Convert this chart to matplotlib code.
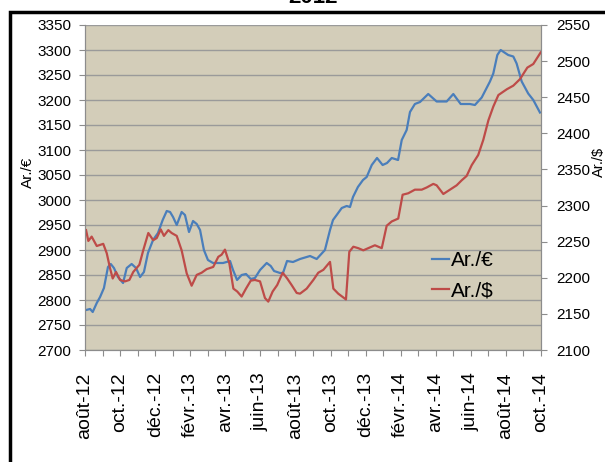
import matplotlib
matplotlib.use("Agg")
import matplotlib.pyplot as plt
from matplotlib.patches import Rectangle

plt.rcParams['font.family'] = ['Liberation Sans', 'DejaVu Sans']

# mois depuis août 2012
mois_eur = [0.06, 0.29, 0.44, 0.67, 0.86, 1.08, 1.31, 1.47, 1.65, 1.88, 2.17, 2.38, 2.66, 2.91,
            3.14, 3.36, 3.59, 3.88, 4.16, 4.43, 4.66, 4.85, 5.02, 5.23, 5.51, 5.70, 5.93, 6.16,
            6.37, 6.56, 6.78, 7.01, 7.30, 7.58, 7.87, 8.27, 8.44, 8.67, 8.93, 9.18, 9.45, 9.69,
            9.98, 10.36, 10.59, 10.78, 11.12, 11.29, 11.52, 11.86, 12.26, 12.83, 13.21, 13.68,
            13.97, 14.14, 14.35, 14.64, 14.92, 15.11, 15.28, 15.56, 15.85, 16.06, 16.35, 16.65,
            16.97, 17.22, 17.49, 17.85, 18.06, 18.34, 18.53, 18.81, 19.10, 19.57, 20.05, 20.62,
            21.00, 21.42, 21.95, 22.23, 22.62, 23.09, 23.28, 23.51, 23.70, 24.13, 24.42, 24.61,
            24.90, 25.27, 25.56, 25.94]
ar_eur = [2780, 2782, 2776, 2794, 2806, 2824, 2866, 2872, 2864, 2846, 2834, 2864, 2872, 2864,
          2846, 2856, 2894, 2920, 2934, 2960, 2978, 2976, 2966, 2950, 2976, 2970, 2936, 2958,
          2952, 2940, 2900, 2880, 2874, 2874, 2874, 2878, 2860, 2840, 2850, 2852, 2842, 2844,
          2860, 2874, 2868, 2858, 2854, 2854, 2878, 2876, 2882, 2888, 2882, 2900,
          2940, 2960, 2970, 2984, 2988, 2986, 3006, 3026, 3040, 3046, 3070, 3084,
          3070, 3074, 3084, 3080, 3120, 3140, 3176, 3192, 3196, 3212, 3197, 3197,
          3212, 3192, 3192, 3190, 3205, 3237, 3253, 3290, 3300, 3290, 3287, 3273,
          3237, 3213, 3200, 3175]

mois_usd = [0.06, 0.19, 0.38, 0.67, 1.04, 1.24, 1.43, 1.58, 1.77, 2.00, 2.28, 2.53, 2.75, 3.10,
            3.32, 3.61, 3.89, 4.09, 4.32, 4.50, 4.75, 4.94, 5.23, 5.51, 5.80, 6.08, 6.37, 6.65,
            6.94, 7.31, 7.60, 7.79, 7.98, 8.23, 8.46, 8.68, 8.93, 9.18, 9.45, 9.69, 9.98, 10.26,
            10.45, 10.70, 10.96, 11.27, 11.53, 11.78, 12.07, 12.26, 12.64, 13.02, 13.30, 13.59,
            13.97, 14.16, 14.44, 14.88, 15.07, 15.30, 15.58, 15.87, 16.15, 16.53, 16.92, 17.20,
            17.49, 17.86, 18.11, 18.43, 18.81, 19.20, 19.48, 19.86, 20.05, 20.43, 20.81, 21.19,
            21.48, 21.76, 22.05, 22.42, 22.71, 23.00, 23.28, 23.57, 24.05, 24.42, 24.80, 25.22,
            25.56, 25.98]
ar_usd = [2266, 2251, 2257, 2244, 2247, 2234, 2213, 2199, 2208, 2197, 2195, 2197, 2208, 2218,
          2238, 2262, 2252, 2255, 2267, 2258, 2266, 2262, 2258, 2238, 2206, 2189, 2204, 2207,
          2212, 2215, 2229, 2232, 2239, 2220, 2185, 2181, 2174, 2185, 2196, 2197, 2195, 2172,
          2167, 2181, 2190, 2207, 2199, 2190, 2179, 2178, 2185, 2197, 2207, 2211,
          2222, 2185, 2178, 2170, 2236, 2243, 2241, 2238, 2241, 2245, 2241, 2272,
          2278, 2282, 2315, 2317, 2322, 2322, 2325, 2330, 2328, 2316, 2322, 2328,
          2335, 2341, 2356, 2370, 2391, 2418, 2437, 2453, 2461, 2466, 2475, 2491,
          2496, 2512]

etiquettes = ['août-12', 'oct.-12', 'déc.-12', 'févr.-13', 'avr.-13', 'juin-13', 'août-13',
              'oct.-13', 'déc.-13', 'févr.-14', 'avr.-14', 'juin-14', 'août-14', 'oct.-14']

gris = '#8c8c8c'

fig = plt.figure(figsize=(6.05, 4.62), dpi=100)
ax = fig.add_axes([85/605, 1-350/462, 456/605, 325/462])
ax.set_facecolor('#d3cdb9')

l1, = ax.plot(mois_eur, ar_eur, color='#4a7ebb', lw=1.6, label='Ar./€')
ax.set_ylim(2700, 3350)
ax.set_yticks(range(2700, 3351, 50))
ax.set_xlim(0, 26)
ax.set_xticks(range(27))
ax.set_xticklabels([etiquettes[i // 2] if i % 2 == 0 else '' for i in range(27)],
                   rotation=90, fontsize=14)
ax.grid(axis='y', color='#9a9a9a', lw=1)
ax.set_axisbelow(True)

ax2 = ax.twinx()
l2, = ax2.plot(mois_usd, ar_usd, color='#be4b48', lw=1.6, label='Ar./$')
ax2.set_ylim(2100, 2550)
ax2.set_yticks(range(2100, 2551, 50))

for a in (ax, ax2):
    a.spines['top'].set_visible(False)
    for s in ('left', 'right', 'bottom'):
        a.spines[s].set_color(gris)
    a.tick_params(colors=gris, length=4, labelcolor='black', labelsize=11)
ax.tick_params(axis='y', pad=6)
ax2.tick_params(axis='y', pad=7)
ax.tick_params(axis='x', pad=12, labelsize=14)

ax.set_ylabel('Ar./€', fontsize=11)
ax.yaxis.set_label_coords(-0.11, 0.545)
ax2.set_ylabel('Ar./$', fontsize=10.5)
ax2.yaxis.set_label_coords(1.111, 0.578)

ax.legend(handles=[l1, l2], loc='upper left', bbox_to_anchor=(0.761, 0.305),
          frameon=False, fontsize=15, handlelength=0.8, handletextpad=0.1,
          labelspacing=0.55, borderpad=0, borderaxespad=0)

# cadre noir autour du graphique
fig.patches.append(Rectangle((10/605, -0.1), 1.2, 1-12/462+0.1, transform=fig.transFigure,
                             fill=False, edgecolor='black', lw=2.5))
fig.text(313/605, 1-3/462, '2012', ha='center', va='baseline', fontsize=16, fontweight='bold')

fig.savefig('out.png', dpi=100, facecolor='white')
